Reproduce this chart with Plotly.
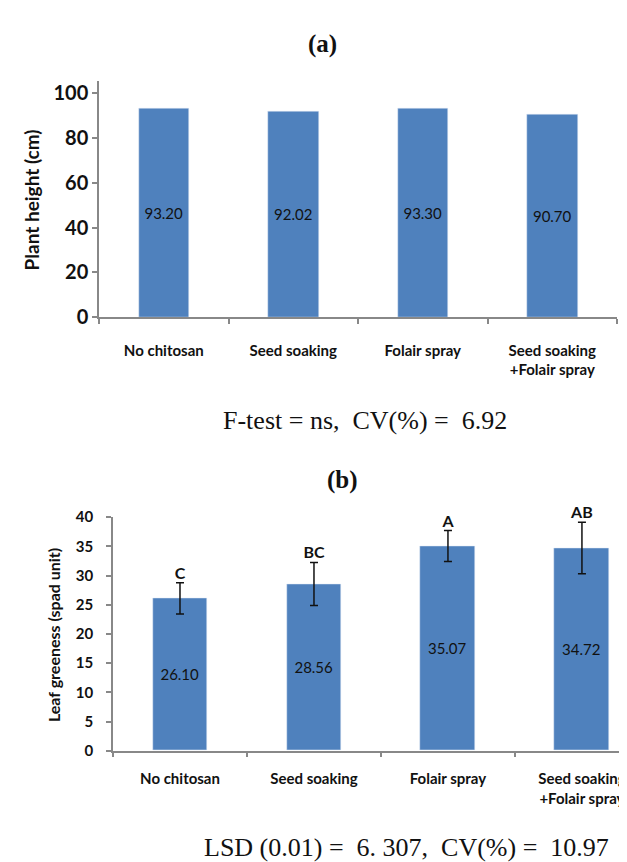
import plotly.graph_objects as go

categories = ["No chitosan", "Seed soaking", "Folair spray", "Seed soaking<br>+Folair spray"]
plant_height = [93.20, 92.02, 93.30, 90.70]
leaf_greeness = [26.10, 28.56, 35.07, 34.72]
leaf_err = [2.67, 3.70, 2.65, 4.42]
leaf_letters = ["C", "BC", "A", "AB"]
height_ticks = [0, 20, 40, 60, 80, 100]
leaf_ticks = [0, 5, 10, 15, 20, 25, 30, 35, 40]

W, H = 627, 862
BAR = "#4F81BD"
AX = "#888888"
LBL = "Lato"
INK = "#111111"

def px(x):
    return x / W

def py(y):
    return 1 - y / H

fig = go.Figure()

fig.add_trace(go.Bar(
    x=categories, y=plant_height, width=0.39, marker_color=BAR,
    texttemplate="%{y:.2f}", textposition="inside", insidetextanchor="middle",
    textfont=dict(family=LBL, size=15, color=INK), textangle=0,
    xaxis="x", yaxis="y", showlegend=False,
))

fig.add_trace(go.Bar(
    x=categories, y=leaf_greeness, width=0.41, marker_color=BAR,
    error_y=dict(type="data", array=leaf_err, color=INK, thickness=1.5, width=4),
    texttemplate="%{y:.2f}", textposition="inside", insidetextanchor="middle",
    textfont=dict(family=LBL, size=15, color=INK), textangle=0,
    xaxis="x2", yaxis="y2", showlegend=False,
))

fig.add_trace(go.Scatter(
    x=categories, y=[v + e for v, e in zip(leaf_greeness, leaf_err)],
    text=leaf_letters, mode="text", textposition="top center",
    textfont=dict(family=LBL, size=16, color=INK, weight="bold"),
    xaxis="x2", yaxis="y2", showlegend=False, cliponaxis=False,
))

axis_common = dict(showline=True, linecolor=AX, linewidth=1.5, ticks="outside",
                   tickcolor=AX, ticklen=5, tickwidth=1.5, showgrid=False, zeroline=False)

fig.update_layout(
    width=W, height=H, margin=dict(l=0, r=0, t=0, b=0),
    plot_bgcolor="white", paper_bgcolor="white", bargap=0,
    xaxis=dict(domain=[px(91), px(609)], type="category", range=[-0.5, 3.5],
               tickson="boundaries", anchor="y",
               tickfont=dict(family=LBL, size=15, color=INK, weight="bold"),
               ticklabelstandoff=19, **axis_common),
    yaxis=dict(domain=[py(306.7), py(65)], range=[0, 105.4], tickvals=height_ticks,
               anchor="x", tickfont=dict(family=LBL, size=20, color=INK, weight="bold"),
               **axis_common),
    xaxis2=dict(domain=[px(105), 1.0], type="category", range=[-0.5, 3.396],
                tickson="boundaries", anchor="y2",
                tickfont=dict(family=LBL, size=15, color=INK, weight="bold"),
                ticklabelstandoff=14, **axis_common),
    yaxis2=dict(domain=[py(751), py(511.7)], range=[0, 40], tickvals=leaf_ticks,
                anchor="x2", tickfont=dict(family=LBL, size=15, color=INK, weight="bold"),
                ticklabelstandoff=10, **axis_common),
)

S = "\u00a0"
SERIF = "Liberation Serif"
ann = [
    dict(text="<b>(a)</b>", x=px(314), y=py(26.5), font=dict(family=SERIF, size=25, color=INK)),
    dict(text="<b>(b)</b>", x=px(334), y=py(474), font=dict(family=SERIF, size=25, color=INK)),
    dict(text="Plant height (cm)", x=px(23), y=py(187), textangle=-90,
         font=dict(family=LBL, size=19, color=INK, weight="bold")),
    dict(text="Leaf greeness (spad unit)", x=px(45.5), y=py(633), textangle=-90,
         font=dict(family=LBL, size=16, color=INK, weight="bold")),
    dict(text=f"F-test = ns,{S}{S}CV(%) ={S}{S}6.92", x=px(357), y=py(413),
         font=dict(family=SERIF, size=26, color=INK)),
    dict(text=f"LSD (0.01) ={S}{S}6. 307,{S}{S}CV(%) ={S}{S}10.97", x=px(603), y=py(850), xanchor="right",
         font=dict(family=SERIF, size=26, color=INK)),
]
for a in ann:
    a.setdefault("xanchor", "center")
    fig.add_annotation(xref="paper", yref="paper", yanchor="middle", showarrow=False, **a)

fig.write_html("out.html")
